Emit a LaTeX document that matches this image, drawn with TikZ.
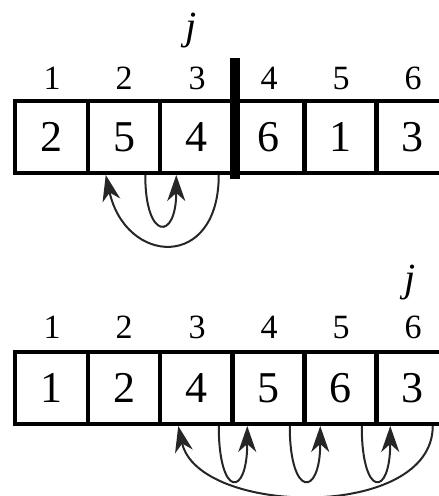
\documentclass[tikz,border=0pt]{standalone}
\usepackage{fontspec}
\setmainfont{Liberation Serif}
\usetikzlibrary{arrows.meta}
\begin{document}
\begin{tikzpicture}[x=1pt, y=1pt,
    cell/.style = {draw, line width=4pt, minimum width=72.5pt, minimum height=72pt, inner sep=0pt, font=\fontsize{44}{44}\selectfont},
    idx/.style = {inner sep=0pt, font=\fontsize{34}{34}\selectfont},
    jmark/.style = {inner sep=0pt, font=\fontsize{40}{40}\selectfont\itshape},
    move/.style = {line width=2pt, black!85, -{Stealth[length=26pt,width=18pt,inset=8pt]}}]
            \useasboundingbox (0,0) rectangle (439,496);

            % first array, j = 3
            \node[cell] (a1) at (51.5,359) {2};
            \node[cell] (a2) at (124,359) {5};
            \node[cell] (a3) at (196.5,359) {4};
            \node[cell] (a4) at (268.5,359) {6};
            \node[cell] (a5) at (340.5,359) {1};
            \node[cell] (a6) at (412.5,359) {3};
            \node[idx] (ia1) at (52,417.5) {1};
            \node[idx] (ia2) at (124,417.5) {2};
            \node[idx] (ia3) at (197,417.5) {3};
            \node[idx] (ia4) at (269,417.5) {4};
            \node[idx] (ia5) at (341,417.5) {5};
            \node[idx] (ia6) at (413,417.5) {6};
            \node[jmark] (ja) at (191,465) {j};
            \draw[line width=10pt] ([yshift=-4pt]a3.south east) -- ([yshift=41pt]a3.north east);

            \draw[move] ([xshift=-16pt]a3.south east) .. controls +(0,-96) and +(20,-90) .. ([xshift=20pt]a2.south west);
            \draw[move] ([xshift=-17pt]a2.south east) .. controls +(0,-66) and +(0,-66) .. ([xshift=18pt]a3.south west);

            % second array, j = 6
            \node[cell] (b1) at (51.5,108) {1};
            \node[cell] (b2) at (124,108) {2};
            \node[cell] (b3) at (196.5,108) {4};
            \node[cell] (b4) at (268.5,108) {5};
            \node[cell] (b5) at (340.5,108) {6};
            \node[cell] (b6) at (412.5,108) {3};
            \node[idx] (ib1) at (52,168.5) {1};
            \node[idx] (ib2) at (124,168.5) {2};
            \node[idx] (ib3) at (197,168.5) {3};
            \node[idx] (ib4) at (269,168.5) {4};
            \node[idx] (ib5) at (341,168.5) {5};
            \node[idx] (ib6) at (413,168.5) {6};
            \node[jmark] (jb) at (410,213) {j};

            \draw[move] ([xshift=-18pt]b6.south east) .. controls +(0,-95) and +(20,-90) .. ([xshift=20pt]b3.south west);
            \draw[move] ([xshift=-16pt]b3.south east) .. controls +(0,-72) and +(0,-72) .. ([xshift=17pt]b4.south west);
            \draw[move] ([xshift=-17pt]b4.south east) .. controls +(0,-72) and +(0,-72) .. ([xshift=18pt]b5.south west);
            \draw[move] ([xshift=-17pt]b5.south east) .. controls +(0,-72) and +(0,-72) .. ([xshift=16pt]b6.south west);
        \end{tikzpicture}
\end{document}
